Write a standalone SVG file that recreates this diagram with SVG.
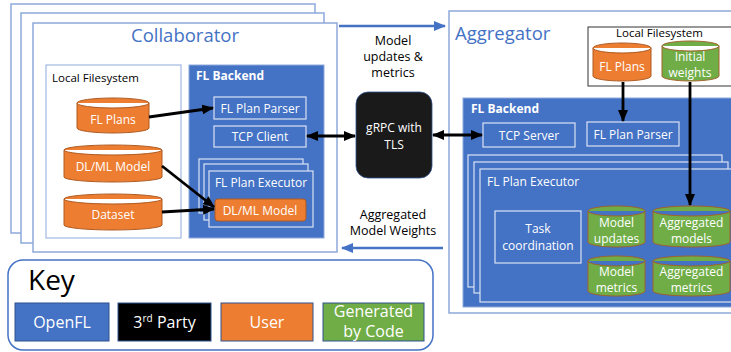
<svg xmlns="http://www.w3.org/2000/svg" width="731" height="352" viewBox="0 0 731 352">
<defs>
<style>
text{font-family:"Open Sans","Noto Sans","DejaVu Sans",sans-serif;}
.frame{fill:#fff;stroke:#8EA9DB;stroke-width:1.5;}
.be{fill:#4472C4;stroke:#8EA9DB;stroke-width:1;}
.wbox{fill:none;stroke:#DAE3F3;stroke-width:1.2;}
.stk{fill:#4472C4;stroke:#DAE3F3;stroke-width:1.2;}
.wt{fill:#fff;font-size:12px;text-anchor:middle;}
.wtb{fill:#fff;font-size:12px;font-weight:bold;}
.orng{fill:#ED7D31;stroke:#AE5A21;stroke-width:1;}
.grn{fill:#70AD47;stroke:#A0622A;stroke-width:1;}
.ln{fill:none;stroke:#000;stroke-width:2.8;}
.bl{fill:none;stroke:#4472C4;stroke-width:2.5;}
.lbl{fill:#000;font-size:12.5px;text-anchor:middle;}
.key{stroke:#2F528F;stroke-width:1;}
.kt{fill:#fff;font-size:16px;text-anchor:middle;}
</style>
<marker id="ah" markerUnits="userSpaceOnUse" markerWidth="12" markerHeight="10" refX="11" refY="5" orient="auto-start-reverse"><path d="M0,0 L12,5 L0,10 z" fill="#000"/></marker>
<marker id="bh" markerUnits="userSpaceOnUse" markerWidth="12" markerHeight="10" refX="11" refY="5" orient="auto"><path d="M0,0 L12,5 L0,10 z" fill="#4472C4"/></marker>
</defs>

<g id="collaborator">
<rect class="frame" x="11" y="4" width="304" height="229"/>
<rect class="frame" x="21" y="13" width="303" height="230"/>
<rect class="frame" x="33" y="23" width="304" height="229"/>
<text x="185" y="42" font-size="18.5" fill="#4472C4" text-anchor="middle">Collaborator</text>
</g>
<g id="collab-localfs">
<rect x="46" y="65" width="135" height="173" fill="#fff" stroke="#8EA9DB" stroke-width="1"/>
<text x="52" y="82" font-size="11.5" fill="#000">Local Filesystem</text>
</g>
<g id="collab-fl-plans">
<path class="orng" d="M77,103 a36,5 0 0 1 72,0 v25 a36,5 0 0 1 -72,0 z M77,103 a36,5 0 0 0 72,0"/>
<text class="wt" x="113" y="124">FL Plans</text>
</g>
<g id="collab-dlml">
<path class="orng" d="M64,150 a49,5 0 0 1 98,0 v27 a49,5 0 0 1 -98,0 z M64,150 a49,5 0 0 0 98,0"/>
<text class="wt" x="113" y="171">DL/ML Model</text>
</g>
<g id="collab-dataset">
<path class="orng" d="M64,199 a49,5 0 0 1 98,0 v26 a49,5 0 0 1 -98,0 z M64,199 a49,5 0 0 0 98,0"/>
<text class="wt" x="113" y="219">Dataset</text>
</g>
<g id="collab-backend">
<rect class="be" x="189" y="65" width="135" height="173"/>
<text class="wtb" x="196" y="80">FL Backend</text>
</g>
<g id="collab-parser">
<rect class="wbox" x="214" y="97" width="92" height="22"/>
<text class="wt" x="260" y="112.5">FL Plan Parser</text>
</g>
<g id="collab-tcp">
<rect class="wbox" x="214" y="126" width="92" height="21"/>
<text class="wt" x="260" y="141">TCP Client</text>
</g>
<g id="collab-executor">
<rect class="stk" x="199" y="159" width="104" height="54"/>
<rect class="stk" x="204" y="164" width="104" height="56"/>
<rect class="stk" x="209" y="171" width="104" height="56"/>
<text class="wt" x="261" y="187">FL Plan Executor</text>
<rect x="215" y="199" width="91" height="22" rx="3" fill="#ED7D31" stroke="#AE5A21" stroke-width="1"/>
<text class="wt" x="260" y="214.5">DL/ML Model</text>
</g>

<g id="grpc">
<rect x="356" y="92" width="76" height="86" rx="12" fill="#1A1A1A" stroke="#2F528F" stroke-width="0.8"/>
<text class="wt" x="394" y="132">gRPC with</text>
<text class="wt" x="394" y="149">TLS</text>
</g>

<g id="aggregator">
<rect x="449" y="11" width="300" height="302" fill="#fff" stroke="#8EA9DB" stroke-width="1.5"/>
<text x="455" y="40" font-size="18.5" fill="#4472C4">Aggregator</text>
</g>
<g id="agg-localfs">
<rect x="588" y="27" width="160" height="59" fill="#fff" stroke="#333" stroke-width="1"/>
<text x="616" y="37" font-size="11.5" fill="#000">Local Filesystem</text>
</g>
<g id="agg-fl-plans">
<path class="orng" d="M593,48 a29,5 0 0 1 58,0 v28 a29,5 0 0 1 -58,0 z M593,48 a29,5 0 0 0 58,0"/>
<text class="wt" x="622" y="71">FL Plans</text>
</g>
<g id="agg-initial-weights">
<path class="grn" d="M662,46 a28.5,5 0 0 1 57,0 v30 a28.5,5 0 0 1 -57,0 z M662,46 a28.5,5 0 0 0 57,0"/>
<text class="wt" x="690" y="61">Initial</text>
<text class="wt" x="690" y="77">weights</text>
</g>
<g id="agg-backend">
<rect x="463" y="98" width="290" height="209" fill="#4472C4" stroke="#8EA9DB" stroke-width="1"/>
<text class="wtb" x="471" y="113">FL Backend</text>
</g>
<g id="agg-tcp">
<rect class="wbox" x="483" y="123" width="92" height="24"/>
<text class="wt" x="529" y="139.5">TCP Server</text>
</g>
<g id="agg-parser">
<rect class="wbox" x="587" y="122" width="92" height="24"/>
<text class="wt" x="633" y="138.5">FL Plan Parser</text>
</g>
<g id="agg-executor">
<rect class="stk" x="468" y="155" width="254" height="132"/>
<rect class="stk" x="474" y="162" width="254" height="131"/>
<rect class="stk" x="480" y="169" width="260" height="133"/>
<text x="487" y="186" font-size="12" fill="#fff">FL Plan Executor</text>
</g>
<g id="task-coordination">
<rect class="wbox" x="495" y="211" width="86" height="52"/>
<text class="wt" x="538" y="233">Task</text>
<text class="wt" x="538" y="250">coordination</text>
</g>
<g id="model-updates">
<path class="grn" d="M588,211 a28.5,5 0 0 1 57,0 v31 a28.5,5 0 0 1 -57,0 z M588,211 a28.5,5 0 0 0 57,0"/>
<text class="wt" x="616.5" y="227">Model</text>
<text class="wt" x="616.5" y="243">updates</text>
</g>
<g id="aggregated-models">
<path class="grn" d="M653,211 a38.5,5 0 0 1 77,0 v31 a38.5,5 0 0 1 -77,0 z M653,211 a38.5,5 0 0 0 77,0"/>
<text class="wt" x="691.5" y="227">Aggregated</text>
<text class="wt" x="691.5" y="243">models</text>
</g>
<g id="model-metrics">
<path class="grn" d="M588,261 a28.5,5 0 0 1 57,0 v30 a28.5,5 0 0 1 -57,0 z M588,261 a28.5,5 0 0 0 57,0"/>
<text class="wt" x="616.5" y="276">Model</text>
<text class="wt" x="616.5" y="292">metrics</text>
</g>
<g id="aggregated-metrics">
<path class="grn" d="M653,261 a38.5,5 0 0 1 77,0 v30 a38.5,5 0 0 1 -77,0 z M653,261 a38.5,5 0 0 0 77,0"/>
<text class="wt" x="691.5" y="276">Aggregated</text>
<text class="wt" x="691.5" y="292">metrics</text>
</g>

<g id="connectors">
<line class="ln" x1="149" y1="117" x2="213" y2="108" marker-end="url(#ah)"/>
<line class="ln" x1="162" y1="166" x2="214" y2="207" marker-end="url(#ah)"/>
<line class="ln" x1="162" y1="212" x2="214" y2="209" marker-end="url(#ah)"/>
<line class="ln" x1="307" y1="136" x2="355" y2="136" marker-start="url(#ah)" marker-end="url(#ah)"/>
<line class="ln" x1="433" y1="135" x2="482" y2="135" marker-start="url(#ah)" marker-end="url(#ah)"/>
<line class="ln" x1="623" y1="82" x2="623" y2="121" marker-end="url(#ah)"/>
<line class="ln" x1="690" y1="82" x2="690" y2="205" marker-end="url(#ah)"/>
<line class="bl" x1="339" y1="26" x2="445" y2="26" marker-end="url(#bh)"/>
<line class="bl" x1="443" y1="248" x2="342" y2="248" marker-end="url(#bh)"/>
<text class="lbl" x="393" y="45">Model</text>
<text class="lbl" x="393" y="61">updates &amp;</text>
<text class="lbl" x="393" y="77">metrics</text>
<text class="lbl" x="393" y="219">Aggregated</text>
<text class="lbl" x="393" y="235">Model Weights</text>
</g>

<g id="key">
<rect x="8" y="260" width="425" height="90" rx="15" fill="#fff" stroke="#4472C4" stroke-width="1.5"/>
<text x="28" y="290" font-size="28" fill="#000">Key</text>
<rect class="key" x="15" y="303" width="94" height="38" fill="#4472C4"/>
<text class="kt" x="62" y="328">OpenFL</text>
<rect class="key" x="118" y="303" width="93" height="38" fill="#000"/>
<text class="kt" x="164.5" y="328">3<tspan font-size="10" dy="-6">rd</tspan><tspan dy="6"> Party</tspan></text>
<rect class="key" x="221" y="303" width="92" height="38" fill="#ED7D31"/>
<text class="kt" x="267" y="328">User</text>
<rect class="key" x="323" y="303" width="101" height="38" fill="#70AD47"/>
<text class="kt" x="373.5" y="317">Generated</text>
<text class="kt" x="373.5" y="337">by Code</text>
</g>
</svg>
